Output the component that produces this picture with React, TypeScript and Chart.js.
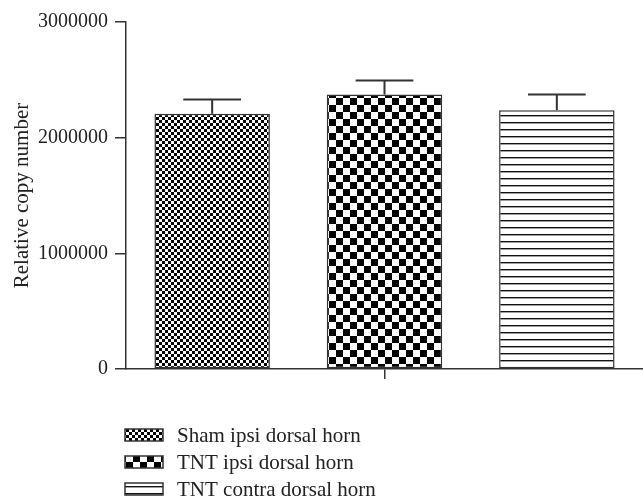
import React, { useEffect, useRef } from "react";
import { Chart, registerables } from "chart.js";

Chart.register(...registerables);

const categories = [""];
const seriesLabels = ["Sham ipsi dorsal horn", "TNT ipsi dorsal horn", "TNT contra dorsal horn"];
const means = [2207000, 2374000, 2236000];
const errors = [122000, 120000, 138000];
const yTicks = [0, 1000000, 2000000, 3000000];

const FONT = "'Liberation Serif', 'Times New Roman', serif";
const INK = "#222";

function makePattern(kind: number): CanvasPattern | string {
  const c = document.createElement("canvas");
  const x = c.getContext("2d")!;
  if (kind === 0) {
    c.width = 6; c.height = 6;
    x.fillStyle = "#000"; x.fillRect(0, 0, 6, 6);
    x.fillStyle = "#fff";
    x.fillRect(0, 0, 3, 3);
    x.fillRect(3, 3, 3, 3);
  } else if (kind === 1) {
    c.width = 14; c.height = 14;
    x.fillStyle = "#fff"; x.fillRect(0, 0, 14, 14);
    x.fillStyle = "#000";
    x.fillRect(0, 0, 7, 7);
    x.fillRect(7, 7, 7, 7);
  } else {
    c.width = 8; c.height = 7;
    x.fillStyle = "#fff"; x.fillRect(0, 0, 8, 7);
    x.fillStyle = "#111";
    x.fillRect(0, 3, 8, 1.4);
  }
  return x.createPattern(c, "repeat") || "#888";
}

export default function App() {
  const ref = useRef<HTMLCanvasElement>(null);
  useEffect(() => {
    const patterns = [makePattern(0), makePattern(1), makePattern(2)];

    const errorBars = {
      id: "errorBars",
      afterDatasetsDraw(chart: any) {
        const ctx = chart.ctx;
        const y = chart.scales.y;
        ctx.save();
        ctx.strokeStyle = "#333";
        ctx.lineWidth = 2;
        chart.data.datasets.forEach((ds: any, i: number) => {
          const meta = chart.getDatasetMeta(i);
          meta.data.forEach((bar: any) => {
            const top = y.getPixelForValue(means[i] + errors[i]);
            const half = bar.width / 4;
            ctx.beginPath();
            ctx.moveTo(bar.x, bar.y);
            ctx.lineTo(bar.x, top);
            ctx.moveTo(bar.x - half, top);
            ctx.lineTo(bar.x + half, top);
            ctx.stroke();
          });
        });
        ctx.restore();
      },
    };

    const legendPlugin = {
      id: "vLegend",
      afterDraw(chart: any) {
        const ctx = chart.ctx;
        ctx.save();
        chart.data.datasets.forEach((ds: any, i: number) => {
          const cy = 435 + i * 27;
          ctx.fillStyle = ds.backgroundColor;
          ctx.fillRect(125, cy - 6, 38, 12);
          ctx.strokeStyle = "#333";
          ctx.lineWidth = 1.5;
          ctx.strokeRect(125, cy - 6, 38, 12);
          ctx.fillStyle = INK;
          ctx.font = `21px ${FONT}`;
          ctx.textBaseline = "middle";
          ctx.textAlign = "left";
          ctx.fillText(ds.label, 177, cy + 1);
        });
        ctx.restore();
      },
    };

    const chart = new Chart(ref.current!, {
      type: "bar",
      data: {
        labels: categories,
        datasets: seriesLabels.map((label, i) => ({
          label,
          data: [means[i]],
          backgroundColor: patterns[i] as any,
          borderColor: "#333",
          borderWidth: 1.5,
          borderSkipped: false,
          categoryPercentage: 1,
          barPercentage: 0.67,
        })),
      },
      options: {
        responsive: false,
        animation: false,
        layout: { padding: { top: 22, right: -3, bottom: 119, left: 0 } },
        plugins: { legend: { display: false }, tooltip: { enabled: false } },
        scales: {
          x: {
            offset: true,
            grid: { display: true, drawOnChartArea: false, drawTicks: true, tickLength: 10, offset: false, color: "#333", lineWidth: 1.5 },
            border: { display: true, color: "#333", width: 1.5 },
            ticks: { display: false },
          },
          y: {
            min: 0,
            max: 3000000,
            afterBuildTicks: (s: any) => { s.ticks = yTicks.map((v) => ({ value: v })); },
            afterFit: (s: any) => { s.width = 126; },
            grid: { display: true, drawOnChartArea: false, drawTicks: true, tickLength: 11, color: "#333", lineWidth: 1.5 },
            border: { display: true, color: "#333", width: 1.5 },
            ticks: { padding: 7, color: INK, font: { family: FONT, size: 20 }, callback: (v: any) => String(v) },
            title: { display: true, text: "Relative copy number", color: INK, font: { family: FONT, size: 21 }, padding: { top: 10, bottom: 0 } },
          },
        },
      },
      plugins: [errorBars, legendPlugin],
    });
    return () => chart.destroy();
  }, []);
  return (
    <div style={{ position: "fixed", left: 0, top: 0, width: 643, height: 498, background: "#fff" }}>
      <canvas ref={ref} width={643} height={498} />
    </div>
  );
}
